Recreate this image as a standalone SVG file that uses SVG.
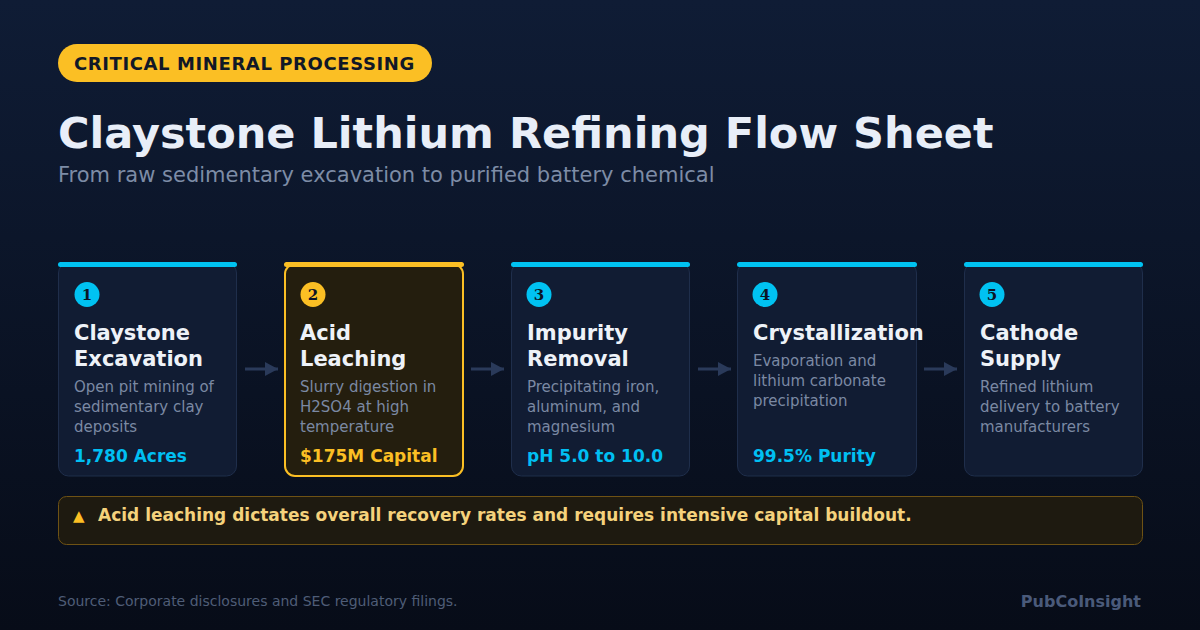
<svg xmlns="http://www.w3.org/2000/svg" width="1200" height="630" viewBox="0 0 1200 630">
<defs>
<linearGradient id="bg" x1="0" y1="0" x2="0" y2="1">
<stop offset="0" stop-color="#0f1c35"/>
<stop offset="1" stop-color="#070c18"/>
</linearGradient>
<marker id="ah" viewBox="0 0 13 14" refX="13" refY="7" markerWidth="13" markerHeight="14" markerUnits="userSpaceOnUse" orient="auto">
<path d="M0,0 L13,7 L0,14 Z" fill="#2a3a5a"/>
</marker>
<style>
.sans{font-family:"DejaVu Sans",Verdana,sans-serif}
.card{fill:#111c33;stroke:#1f2e4b;stroke-width:1}
.cardhi{fill:#241e0e;stroke:#fbbf24;stroke-width:2}
.bar{fill:#00c2f2}
.barhi{fill:#fbbf24}
.num{font-family:"DejaVu Serif",serif;font-weight:bold;font-size:15px;fill:#0b1426;text-anchor:middle}
.ttl{font-family:"DejaVu Sans",sans-serif;font-weight:bold;font-size:21px;fill:#eef2f8}
.desc{font-family:"DejaVu Sans",sans-serif;font-size:15px;fill:#7b89a3}
.met{font-family:"DejaVu Sans",sans-serif;font-weight:bold;font-size:17px;fill:#00bff2}
.conn{stroke:#2a3a5a;stroke-width:3;fill:none}
</style>
</defs>
<rect width="1200" height="630" fill="url(#bg)"/>
<g id="header">
<rect x="58" y="44" width="374" height="38" rx="19" fill="#fbbf24"/>
<text x="74" y="70" class="sans" font-weight="bold" font-size="18" fill="#111827" letter-spacing="0.6">CRITICAL MINERAL PROCESSING</text>
<text x="58" y="148" class="sans" font-weight="bold" font-size="43" fill="#e8eef8">Claystone Lithium Refining Flow Sheet</text>
<text x="58" y="182" class="sans" font-size="21" fill="#7d8ca6">From raw sedimentary excavation to purified battery chemical</text>
</g>
<g id="connectors">
<line class="conn" x1="245" y1="369" x2="278" y2="369" marker-end="url(#ah)"/>
<line class="conn" x1="471" y1="369" x2="504" y2="369" marker-end="url(#ah)"/>
<line class="conn" x1="698" y1="369" x2="731" y2="369" marker-end="url(#ah)"/>
<line class="conn" x1="924" y1="369" x2="957" y2="369" marker-end="url(#ah)"/>
</g>
<g id="node1">
<rect class="card" x="58.5" y="263" width="178" height="213" rx="10"/>
<rect class="bar" x="58" y="262" width="179" height="5" rx="2.5"/>
<circle cx="87" cy="294.5" r="12.5" fill="#00c2f2"/>
<text class="num" x="87" y="300">1</text>
<text class="ttl" x="74" y="340">Claystone</text>
<text class="ttl" x="74" y="366">Excavation</text>
<text class="desc" x="74" y="392">Open pit mining of</text>
<text class="desc" x="74" y="412">sedimentary clay</text>
<text class="desc" x="74" y="432">deposits</text>
<text class="met" x="74" y="462">1,780 Acres</text>
</g>
<g id="node2">
<rect class="cardhi" x="285" y="264" width="178" height="212" rx="10"/>
<rect class="barhi" x="284" y="262" width="180" height="5" rx="2.5"/>
<circle cx="313" cy="294.5" r="12.5" fill="#fbbf24"/>
<text class="num" x="313" y="300">2</text>
<text class="ttl" x="300" y="340">Acid</text>
<text class="ttl" x="300" y="366">Leaching</text>
<text class="desc" x="300" y="392">Slurry digestion in</text>
<text class="desc" x="300" y="412">H2SO4 at high</text>
<text class="desc" x="300" y="432">temperature</text>
<text class="met" x="300" y="462" style="fill:#fbbf24">$175M Capital</text>
</g>
<g id="node3">
<rect class="card" x="511.5" y="263" width="178" height="213" rx="10"/>
<rect class="bar" x="511" y="262" width="179" height="5" rx="2.5"/>
<circle cx="539" cy="294.5" r="12.5" fill="#00c2f2"/>
<text class="num" x="539" y="300">3</text>
<text class="ttl" x="527" y="340">Impurity</text>
<text class="ttl" x="527" y="366">Removal</text>
<text class="desc" x="527" y="392">Precipitating iron,</text>
<text class="desc" x="527" y="412">aluminum, and</text>
<text class="desc" x="527" y="432">magnesium</text>
<text class="met" x="527" y="462">pH 5.0 to 10.0</text>
</g>
<g id="node4">
<rect class="card" x="737.5" y="263" width="179" height="213" rx="10"/>
<rect class="bar" x="737" y="262" width="180" height="5" rx="2.5"/>
<circle cx="765" cy="294.5" r="12.5" fill="#00c2f2"/>
<text class="num" x="765" y="300">4</text>
<text class="ttl" x="753" y="340">Crystallization</text>
<text class="desc" x="753" y="366">Evaporation and</text>
<text class="desc" x="753" y="386">lithium carbonate</text>
<text class="desc" x="753" y="406">precipitation</text>
<text class="met" x="753" y="462">99.5% Purity</text>
</g>
<g id="node5">
<rect class="card" x="964.5" y="263" width="178" height="213" rx="10"/>
<rect class="bar" x="964" y="262" width="179" height="5" rx="2.5"/>
<circle cx="992" cy="294.5" r="12.5" fill="#00c2f2"/>
<text class="num" x="992" y="300">5</text>
<text class="ttl" x="980" y="340">Cathode</text>
<text class="ttl" x="980" y="366">Supply</text>
<text class="desc" x="980" y="392">Refined lithium</text>
<text class="desc" x="980" y="412">delivery to battery</text>
<text class="desc" x="980" y="432">manufacturers</text>
</g>
<g id="callout">
<rect x="58.5" y="496.5" width="1084" height="48" rx="8" fill="#1e1a10" stroke="#6e5214" stroke-width="1"/>
<text x="73" y="521" class="sans" font-size="15" fill="#fbbf24">▲</text>
<text x="98" y="521" class="sans" font-weight="bold" font-size="17" fill="#f5d27c">Acid leaching dictates overall recovery rates and requires intensive capital buildout.</text>
</g>
<g id="footer">
<text x="58" y="606" class="sans" font-size="14" fill="#4f5d77">Source: Corporate disclosures and SEC regulatory filings.</text>
<text x="1141" y="607" class="sans" font-weight="bold" font-size="16" fill="#4a5a7a" text-anchor="end">PubCoInsight</text>
</g>
</svg>
